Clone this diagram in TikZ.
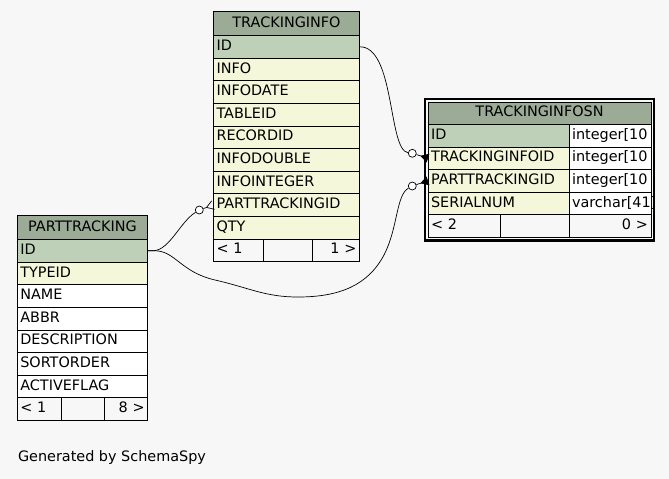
\documentclass[tikz,border=0pt]{standalone}
\usepackage{fontspec}
\setmainfont{DejaVu Sans}
\usepackage{tikz}
\usetikzlibrary{positioning, arrows.meta, calc}

\definecolor{headgreen}{HTML}{9BAB96}
\definecolor{keygreen}{HTML}{BED1B8}
\definecolor{idxyellow}{HTML}{F4F7DA}
\definecolor{pagegrey}{HTML}{F7F7F7}

\begin{document}
\begin{tikzpicture}[
    x=1pt, y=-1pt,
    font=\fontsize{14.4}{16}\selectfont,
    % Define styles for the table cells and the links
        cell/.style={draw, line width=0.8pt, inner xsep=3pt, inner ysep=0pt, outer sep=0pt, minimum height=22.6pt, text height=10.5pt, text depth=3pt, align=left},
        head/.style={cell, fill=headgreen, align=center, minimum height=24pt},
        keyrow/.style={cell, fill=keygreen},
        idxrow/.style={cell, fill=idxyellow},
        plainrow/.style={cell, fill=white},
        footl/.style={cell, align=left},
        footr/.style={cell, align=right},
        zero/.style={draw, circle, fill=white, line width=0.7pt, inner sep=0pt, minimum size=8pt},
        link/.style={line width=0.7pt},
        crow/.style={link, -{Straight Barb[reversed, length=7pt, width=9pt]}},
        crowfill/.style={link, -{Triangle[reversed, length=8pt, width=9pt]}}
    ]

    \useasboundingbox (0,0) rectangle (669,479);
    \fill[pagegrey] (0,0) rectangle (669,479);

    % Define the TRACKINGINFO table
    \node[head, minimum width=146pt, anchor=north west] (tinfo) at (213.5,11.5) {TRACKINGINFO};
    \node[keyrow, text width=140pt, below=0pt of tinfo] (tinfo-id) {ID};
    \node[idxrow, text width=140pt, below=0pt of tinfo-id] (tinfo-info) {INFO};
    \node[idxrow, text width=140pt, below=0pt of tinfo-info] (tinfo-date) {INFODATE};
    \node[idxrow, text width=140pt, below=0pt of tinfo-date] (tinfo-table) {TABLEID};
    \node[idxrow, text width=140pt, below=0pt of tinfo-table] (tinfo-record) {RECORDID};
    \node[idxrow, text width=140pt, below=0pt of tinfo-record] (tinfo-double) {INFODOUBLE};
    \node[idxrow, text width=140pt, below=0pt of tinfo-double] (tinfo-integer) {INFOINTEGER};
    \node[idxrow, text width=140pt, below=0pt of tinfo-integer] (tinfo-ptid) {PARTTRACKINGID};
    \node[idxrow, text width=140pt, below=0pt of tinfo-ptid] (tinfo-qty) {QTY};
    \node[footl, text width=44pt, below right=0pt and 0pt of tinfo-qty.south west] (tinfo-f1) {< 1};
    \node[footl, text width=42.4pt, right=0pt of tinfo-f1] (tinfo-f2) {};
    \node[footr, text width=41.6pt, right=0pt of tinfo-f2] (tinfo-f3) {1 >};

    % Define the PARTTRACKING table
    \node[head, minimum width=130.4pt, anchor=north west] (part) at (17.3,215.5) {PARTTRACKING};
    \node[keyrow, text width=124.4pt, below=0pt of part] (part-id) {ID};
    \node[idxrow, text width=124.4pt, below=0pt of part-id] (part-type) {TYPEID};
    \node[plainrow, text width=124.4pt, below=0pt of part-type] (part-name) {NAME};
    \node[plainrow, text width=124.4pt, below=0pt of part-name] (part-abbr) {ABBR};
    \node[plainrow, text width=124.4pt, below=0pt of part-abbr] (part-desc) {DESCRIPTION};
    \node[plainrow, text width=124.4pt, below=0pt of part-desc] (part-sort) {SORTORDER};
    \node[plainrow, text width=124.4pt, below=0pt of part-sort] (part-active) {ACTIVEFLAG};
    \node[footl, text width=38.4pt, below right=0pt and 0pt of part-active.south west] (part-f1) {< 1};
    \node[footl, text width=36.6pt, right=0pt of part-f1] (part-f2) {};
    \node[footr, text width=37.4pt, right=0pt of part-f2] (part-f3) {8 >};

    % Define the TRACKINGINFOSN table
    \node[head, minimum width=223pt, minimum height=22.3pt, anchor=north west] (sn) at (428,102) {TRACKINGINFOSN};
    \node[keyrow, text width=135pt, below right=0pt and 0pt of sn.south west] (sn-id) {ID};
    \node[plainrow, text width=76pt, right=0pt of sn-id] (sn-id-type) {integer[10};
    \node[idxrow, text width=135pt, below=0pt of sn-id] (sn-tinfoid) {TRACKINGINFOID};
    \node[plainrow, text width=76pt, right=0pt of sn-tinfoid] (sn-tinfoid-type) {integer[10};
    \node[idxrow, text width=135pt, below=0pt of sn-tinfoid] (sn-ptid) {PARTTRACKINGID};
    \node[plainrow, text width=76pt, right=0pt of sn-ptid] (sn-ptid-type) {integer[10};
    \node[idxrow, text width=135pt, below=0pt of sn-ptid] (sn-serial) {SERIALNUM};
    \node[plainrow, text width=76pt, right=0pt of sn-serial] (sn-serial-type) {varchar[41]};
    \node[footl, text width=66pt, below right=0pt and 0pt of sn-serial.south west] (sn-f1) {< 2};
    \node[footl, text width=63pt, right=0pt of sn-f1] (sn-f2) {};
    \node[footr, text width=76pt, right=0pt of sn-f2] (sn-f3) {0 >};
    \draw[line width=2.4pt] ($(sn.north west)+(-3,-3)$) rectangle ($(sn-f3.south east)+(3,3)$);

    % Define the optional ends
    \node[zero] (o1) at (412.3,153.3) {};
    \node[zero] (o2) at (199.3,210) {};
    \node[zero] (o3) at (412.3,186) {};

    % Draw the links between the tables
    \draw[link] (tinfo-id.east) .. controls (395,46) and (388,150) .. (o1);
    \draw[crowfill] (o1) -- (sn-tinfoid.west);

    \draw[link] (part-id.east) -- ++(6,0) .. controls (170,249.5) and (180,222) .. (o2);
    \draw[crow] (o2) -- (tinfo-ptid.west);

    \draw[link] (part-id.east) -- ++(6,0) .. controls (175,250) and (180,272) .. (215,280)
        .. controls (250,288) and (265,297) .. (298,297)
        .. controls (340,297) and (368,285) .. (384,255)
        .. controls (398,228) and (396,195) .. (o3);
    \draw[crowfill] (o3) -- (sn-ptid.west);

    \node[anchor=base west] (credit) at (14.5,461) {Generated by SchemaSpy};
\end{tikzpicture}
\end{document}
